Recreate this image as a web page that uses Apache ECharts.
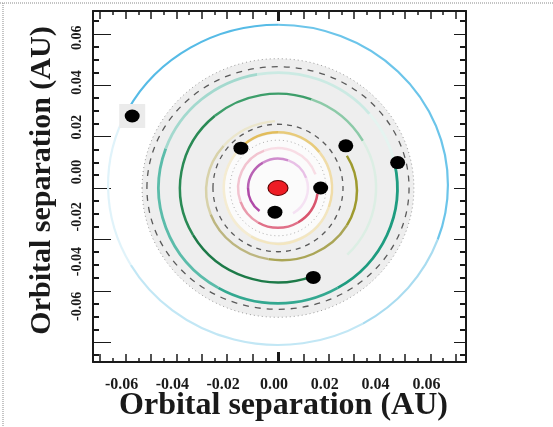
<!DOCTYPE html>
<html><head><meta charset="utf-8">
<script src="https://cdn.jsdelivr.net/npm/echarts@6/dist/echarts.min.js"></script>
<style>html,body{margin:0;padding:0;background:#fff}#c{width:553px;height:427px}</style>
</head><body><div id="c"></div>
<script>
// ---------- data ----------
const tickLabels = [-0.06, -0.04, -0.02, 0.00, 0.02, 0.04, 0.06];
const majorTicks = [-0.06, -0.04, -0.02, 0.00, 0.02, 0.04, 0.06];
const oddHundredthTicks = [-0.07, -0.05, -0.03, -0.01, 0.01, 0.03, 0.05, 0.07];
const halfHundredthTicks = [-0.065, -0.055, -0.045, -0.035, -0.025, -0.015, -0.005, 0.005, 0.015, 0.025, 0.035, 0.045, 0.055, 0.065];

const starX = [0.0];
const starY = [0.0];

// planets (AU)
const planetX = [-0.0146, 0.0267, 0.0168, -0.0012, 0.0139, 0.0471, -0.0574];
const planetY = [ 0.0155, 0.0164, 0.0000, -0.0094, -0.0348, 0.0099, 0.0280];

// coloured orbits (AU): purple, pink, gold, olive, green, teal, blue
const orbitCx = [0, 0, 0, 0.0014, 0, 0, 0];
const orbitCy = [0, 0, 0, -0.0010, 0, 0, 0.0012];
const orbitRx = [0.0118, 0.0157, 0.0213, 0.0297, 0.0386, 0.0470, 0.0669];
const orbitRy = [0.0114, 0.0155, 0.0217, 0.0271, 0.0367, 0.0449, 0.0623];

// grey guide rings (AU): inner dotted, inner dashed, outer dashed, outer dotted
const guideRx = [0.0189, 0.0256, 0.0516, 0.0535];
const guideRy = [0.0186, 0.0248, 0.0472, 0.0503];

// grey disk (outer, inner) in AU
const diskRx = [0.0535, 0.0210];
const diskRy = [0.0503, 0.0210];

// ---------- styles ----------
const orbitStyle = [
  {w: 2.5, segs: [[-128, -180, '#b04aa8'], [180, 120, '#b862b4'], [120, 70, '#cf8ccd'], [70, 20, '#e8c0e6'], [20, -60, '#f5e2f3']]},
  {w: 2.5, segs: [[-8, -60, '#d9556e'], [-60, -120, '#e07088'], [-120, -160, '#e99aac'], [-160, -250, '#f2c4d0'], [110, 20, '#f8dde5']]},
  {w: 2.5, segs: [[134, 90, '#e2bd5c'], [90, 40, '#e8cb7a'], [40, -20, '#f0dca8'], [-20, -120, '#f3e6c0'], [-120, -226, '#f5ecd2']]},
  {w: 2.5, segs: [[30, -30, '#9e9a2e'], [-30, -100, '#aaa556'], [-100, -160, '#bdb680'], [-160, -220, '#d8d2aa'], [140, 95, '#ebe6cc']]},
  {w: 2.5, segs: [[-69, -150, '#1d7a48'], [-150, -230, '#2a8a55'], [130, 70, '#3d9e6a'], [70, 30, '#8ccaa8'], [30, -45, '#dceee4']]},
  {w: 2.8, segs: [[12, -60, '#1e9c80'], [-60, -120, '#33a890'], [-120, -200, '#5bbcaa'], [160, 100, '#a3d9ce'], [100, 40, '#cbeae3'], [40, 12, '#e5f4f0']]},
  {w: 2.2, segs: [[152, 90, '#56bbe6'], [90, -20, '#6cc5ea'], [-20, -60, '#a9dcf0'], [-60, -150, '#c2e7f5'], [-150, -208, '#e0f3fa']]}
];
const guideStyle = [
  {stroke: '#b0b0b0', dash: [1, 3], w: 1},
  {stroke: '#5a5a5a', dash: [5, 5], w: 1.3},
  {stroke: '#5a5a5a', dash: [6, 6], w: 1.3},
  {stroke: '#9a9a9a', dash: [1, 3], w: 1}
];
const diskFill = ['#eeeeee', '#fbfbfb'];

const FONT = "'Liberation Serif','Times New Roman',serif";
const INK = '#1a1a1a';
const XMIN = -0.07283, XMAX = 0.07402;
const YMIN = -0.0677, YMAX = 0.06886;
const LXSHIFT = 0.00157;
const LMIN = -0.08489, LMAX = 0.0720;

function xAx(pos, ticks, len, w, withLine, extra) {
  return Object.assign({
    type: 'value', position: pos, min: XMIN, max: XMAX, gridIndex: 0,
    axisLine: {show: withLine, onZero: false, lineStyle: {color: INK, width: 2}},
    axisTick: {show: true, inside: true, length: len, customValues: ticks, lineStyle: {color: INK, width: w}},
    axisLabel: {show: false}, splitLine: {show: false}
  }, extra || {});
}
function yAx(pos, ticks, len, w, withLine, extra) {
  return Object.assign({
    type: 'value', position: pos, min: YMIN, max: YMAX, gridIndex: 0,
    axisLine: {show: withLine, onZero: false, lineStyle: {color: INK, width: 2}},
    axisTick: {show: true, inside: true, length: len, customValues: ticks, lineStyle: {color: INK, width: w}},
    axisLabel: {show: false}, splitLine: {show: false}
  }, extra || {});
}

const xLong = majorTicks.concat(oddHundredthTicks);
const yShort = oddHundredthTicks.concat(halfHundredthTicks);

const orbitRows = orbitRx.map((r, i) => [orbitCx[i], orbitCy[i], orbitRx[i], orbitRy[i]]);
const guideRows = guideRx.map((r, i) => [0, 0, guideRx[i], guideRy[i]]);
const diskRows = diskRx.map((r, i) => [0, 0, diskRx[i], diskRy[i]]);

function geom(api) {
  const c = api.coord([api.value(0), api.value(1)]);
  const rx = api.size([api.value(2), 0])[0];
  const ry = api.size([0, api.value(3)])[1];
  return {c, rx, ry};
}

const option = {
  animation: false,
  backgroundColor: '#ffffff',
  grid: {left: 93, right: 87, top: 11, bottom: 63},
  xAxis: [
    xAx('bottom', xLong, 8, 1.5, true, {
      name: 'Orbital separation (AU)', nameLocation: 'middle', nameGap: 28,
      nameTextStyle: {fontFamily: FONT, fontWeight: 'bold', fontSize: 32, color: INK, padding: [0, 0, 0, 8]}
    }),
    xAx('bottom', halfHundredthTicks, 4, 1.5, false),
    xAx('bottom', [0], 10, 3, false),
    xAx('top', xLong, 8, 1.5, true),
    xAx('top', halfHundredthTicks, 4, 1.5, false),
    xAx('top', [0], 10, 3, false),
    {
      type: 'value', position: 'bottom', min: XMIN + LXSHIFT, max: XMAX + LXSHIFT, gridIndex: 0,
      axisLine: {show: false}, axisTick: {show: false}, splitLine: {show: false},
      axisLabel: {show: true, customValues: tickLabels, formatter: v => v.toFixed(2), fontFamily: FONT, fontWeight: 'bold', fontSize: 16, color: INK, margin: 15}
    }
  ],
  yAxis: [
    yAx('left', majorTicks, 18, 1, true, {
      name: 'Orbital separation (AU)', nameLocation: 'middle', nameGap: 36,
      nameTextStyle: {fontFamily: FONT, fontWeight: 'bold', fontSize: 30, color: INK, padding: [0, 0, 0, 12]}
    }),
    yAx('left', yShort, 6, 2, false),
    yAx('right', majorTicks, 12, 1, true),
    yAx('right', yShort, 6, 2, false),
    {
      type: 'value', position: 'left', min: LMIN, max: LMAX, gridIndex: 0,
      axisLine: {show: false}, axisTick: {show: false}, splitLine: {show: false},
      axisLabel: {show: true, customValues: tickLabels, formatter: v => v.toFixed(2), rotate: 90, fontFamily: FONT, fontWeight: 'bold', fontSize: 14, color: INK, margin: 9}
    }
  ],
  graphic: [
    {type: 'line', silent: true, shape: {x1: 0, y1: 3, x2: 553, y2: 3}, style: {stroke: '#8a8a8a', lineDash: [1, 1], lineWidth: 1}},
    {type: 'line', silent: true, shape: {x1: 3, y1: 3, x2: 3, y2: 427}, style: {stroke: '#8a8a8a', lineDash: [1, 1], lineWidth: 1}}
  ],
  series: [
    {
      type: 'custom', name: 'disk', data: diskRows, encode: {x: 0, y: 1}, z: 1,
      renderItem: (params, api) => {
        const g = geom(api);
        return {type: 'ellipse', shape: {cx: g.c[0], cy: g.c[1], rx: g.rx, ry: g.ry}, style: {fill: diskFill[params.dataIndex], stroke: null}};
      }
    },
    {
      type: 'custom', name: 'guides', data: guideRows, encode: {x: 0, y: 1}, z: 2,
      renderItem: (params, api) => {
        const g = geom(api);
        const s = guideStyle[params.dataIndex];
        return {type: 'ellipse', shape: {cx: g.c[0], cy: g.c[1], rx: g.rx, ry: g.ry}, style: {fill: 'none', stroke: s.stroke, lineWidth: s.w, lineDash: s.dash}};
      }
    },
    {
      type: 'custom', name: 'orbits', data: orbitRows, encode: {x: 0, y: 1}, z: 3,
      renderItem: (params, api) => {
        const g = geom(api);
        const st = orbitStyle[params.dataIndex];
        const children = st.segs.map(s => ({
          type: 'arc',
          shape: {cx: 0, cy: 0, r: g.rx, startAngle: -s[0] * Math.PI / 180, endAngle: -s[1] * Math.PI / 180, clockwise: true},
          style: {fill: 'none', stroke: s[2], lineWidth: st.w}
        }));
        return {type: 'group', x: g.c[0], y: g.c[1], scaleY: g.ry / g.rx, children};
      }
    },
    {
      type: 'scatter', name: 'outer planet backdrop', z: 4, symbol: 'rect', symbolSize: [26, 24],
      itemStyle: {color: '#ebebeb', opacity: 1}, data: [[planetX[6], planetY[6]]]
    },
    {
      type: 'scatter', name: 'planets', z: 5, symbol: 'circle', symbolSize: [15, 13],
      itemStyle: {color: '#000000', opacity: 1}, data: planetX.map((x, i) => [x, planetY[i]])
    },
    {
      type: 'scatter', name: 'star', z: 6, symbol: 'circle', symbolSize: [20, 15],
      itemStyle: {color: '#ee1c24', borderColor: '#5a0000', borderWidth: 1, opacity: 1}, data: starX.map((x, i) => [x, starY[i]])
    }
  ]
};
const chart = echarts.init(document.getElementById('c'), null, {renderer: 'canvas'});
chart.setOption(option);
</script>
</body></html>
